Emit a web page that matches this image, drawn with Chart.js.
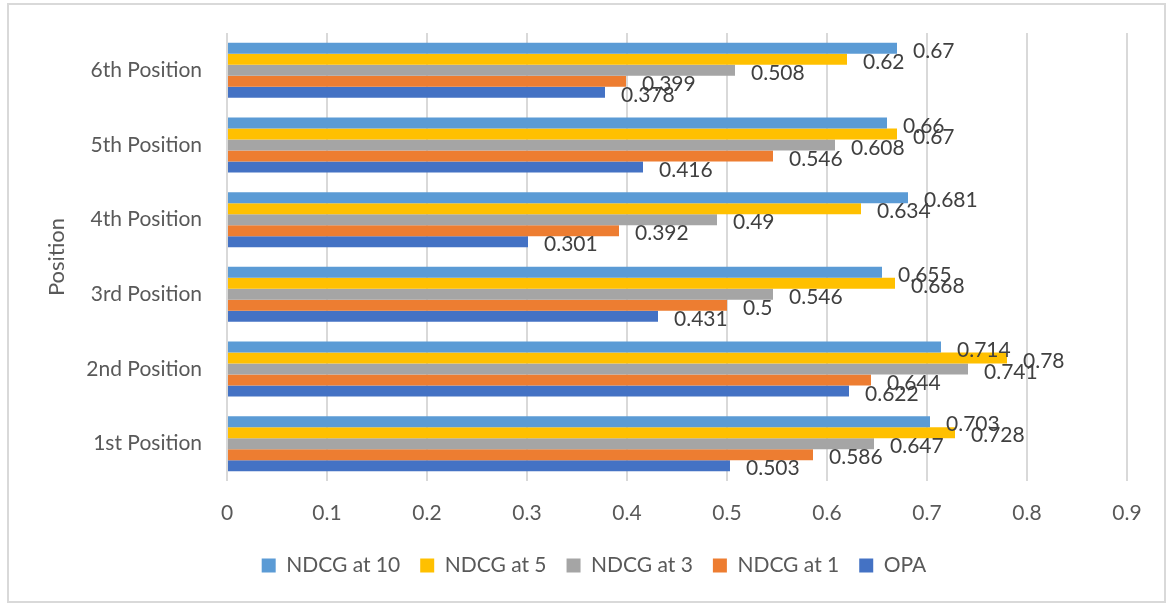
<!DOCTYPE html>
<html>
<head>
<meta charset="utf-8">
<script src="https://cdn.jsdelivr.net/npm/chart.js@4/dist/chart.umd.min.js"></script>
<style>
  html, body { margin: 0; padding: 0; background: #ffffff; }
  #wrap { width: 1168px; height: 604px; }
</style>
</head>
<body>
<div id="wrap"><canvas id="c" width="1168" height="604"></canvas></div>
<script>
// Categories, bottom to top on the chart
const positions = ['1st Position', '2nd Position', '3rd Position', '4th Position', '5th Position', '6th Position'];

// Scores per position
const ndcgAt10 = [0.703, 0.714, 0.655, 0.681, 0.66, 0.67];
const ndcgAt5  = [0.728, 0.78, 0.668, 0.634, 0.67, 0.62];
const ndcgAt3  = [0.647, 0.741, 0.546, 0.49, 0.608, 0.508];
const ndcgAt1  = [0.586, 0.644, 0.5, 0.392, 0.546, 0.399];
const opa      = [0.503, 0.622, 0.431, 0.301, 0.416, 0.378];

const xTicks = [0, 0.1, 0.2, 0.3, 0.4, 0.5, 0.6, 0.7, 0.8, 0.9];

const FONT = 'Lato, "Open Sans", sans-serif';
const TEXT = '#595959';

// White background plus the thin frame around the chart
const framePlugin = {
  id: 'frame',
  beforeDraw(chart) {
    const ctx = chart.ctx;
    ctx.save();
    ctx.fillStyle = '#ffffff';
    ctx.fillRect(0, 0, chart.width, chart.height);
    ctx.strokeStyle = '#d9d9d9';
    ctx.lineWidth = 2;
    ctx.strokeRect(8, 4, 1157, 598);
    ctx.restore();
  }
};

// Value labels written just past the end of each bar
const valueLabels = {
  id: 'valueLabels',
  afterDatasetsDraw(chart) {
    const ctx = chart.ctx;
    ctx.save();
    ctx.font = '21px ' + FONT;
    ctx.fillStyle = '#404040';
    ctx.textAlign = 'left';
    ctx.textBaseline = 'middle';
    chart.data.datasets.forEach((ds, di) => {
      const meta = chart.getDatasetMeta(di);
      meta.data.forEach((bar, i) => {
        ctx.fillText(String(ds.data[i]), bar.x + 16, bar.y + 3);
      });
    });
    ctx.restore();
  }
};

new Chart(document.getElementById('c'), {
  type: 'bar',
  data: {
    labels: positions,
    datasets: [
      { label: 'NDCG at 10', data: ndcgAt10, backgroundColor: '#5B9BD5' },
      { label: 'NDCG at 5',  data: ndcgAt5,  backgroundColor: '#FFC000' },
      { label: 'NDCG at 3',  data: ndcgAt3,  backgroundColor: '#A5A5A5' },
      { label: 'NDCG at 1',  data: ndcgAt1,  backgroundColor: '#ED7D31' },
      { label: 'OPA',        data: opa,      backgroundColor: '#4472C4' }
    ]
  },
  options: {
    indexAxis: 'y',
    responsive: false,
    animation: false,
    devicePixelRatio: 1,
    layout: { padding: { top: 33, right: 41, bottom: 18, left: 61 } },
    datasets: {
      bar: { categoryPercentage: 0.736, barPercentage: 1.0, borderWidth: 0 }
    },
    scales: {
      x: {
        min: 0,
        max: 0.9,
        afterBuildTicks(scale) { scale.ticks = xTicks.map(v => ({ value: v })); },
        afterFit(scale) { scale.height = 54; },
        grid: { color: '#d9d9d9', lineWidth: 2, drawTicks: false },
        border: { display: false },
        ticks: {
          padding: 20,
          color: TEXT,
          font: { family: FONT, size: 21 },
          callback: (v) => String(v)
        }
      },
      y: {
        reverse: true,
        afterFit(scale) { scale.width = 166; },
        grid: { display: false, drawTicks: true, tickLength: 21 },
        border: { display: false },
        ticks: {
          padding: 4,
          color: TEXT,
          font: { family: FONT, size: 21 }
        },
        title: {
          display: true,
          text: 'Position',
          color: TEXT,
          font: { family: FONT, size: 22 },
          padding: { top: -17, bottom: 0 }
        }
      }
    },
    plugins: {
      legend: {
        position: 'bottom',
        labels: {
          boxWidth: 14,
          boxHeight: 14,
          padding: 20,
          color: TEXT,
          font: { family: FONT, size: 21 }
        }
      },
      tooltip: { enabled: false }
    }
  },
  plugins: [framePlugin, valueLabels]
});
</script>
</body>
</html>
